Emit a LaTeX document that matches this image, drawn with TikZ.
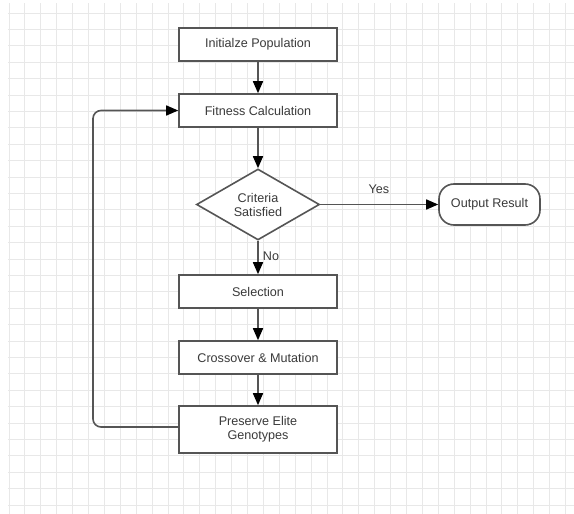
\documentclass[tikz,border=0pt]{standalone}
\usepackage{fontspec}
\setmainfont{Liberation Sans}
\usetikzlibrary{shapes.geometric,arrows.meta}
\definecolor{gridc}{HTML}{E8E8E8}
\definecolor{linec}{HTML}{555555}
\definecolor{txtc}{HTML}{3A3A3A}
\begin{document}
\begin{tikzpicture}[x=1pt,y=-1pt,
  every node/.style={font=\fontsize{12.6}{14}\selectfont, text=txtc},
  procbox/.style={draw=linec, line width=1.6pt, fill=white, minimum width=158pt, minimum height=33pt, inner sep=0pt, align=center},
  decbox/.style={draw=linec, line width=1.6pt, fill=white, diamond, minimum width=123pt, minimum height=71pt, aspect=1.73, inner sep=0pt, align=center},
  termbox/.style={draw=linec, line width=1.6pt, fill=white, rounded corners=15pt, minimum width=101pt, minimum height=41pt, inner sep=0pt},
  conn/.style={draw=linec, line width=1.6pt, -{Triangle[length=12pt,width=10pt,black]}},
  lbl/.style={inner sep=1pt}
]
\useasboundingbox (0,0) rectangle (574,514);
\fill[white] (0,0) rectangle (574,514);
% grid
\foreach \i in {0,...,35} {\draw[gridc, line width=0.9pt] ({9+15.9*\i},3) -- ({9+15.9*\i},514);}
\foreach \j in {0,...,30} {\draw[gridc, line width=0.9pt] (8,{13+16.4*\j}) -- (574,{13+16.4*\j});}

\node[procbox] (init) at (258,44.5) {Initialze Population};
\node[procbox] (fit) at (258,110.5) {Fitness Calculation};
\node[decbox] (crit) at (258,204.5) {Criteria\\Satisfied};
\node[termbox] (out) at (489.5,204.5) {Output Result};
\node[procbox] (sel) at (258,291.5) {Selection};
\node[procbox] (cross) at (258,357.5) {Crossover \& Mutation};
\node[procbox, minimum height=47pt] (pres) at (258,429.5) {Preserve Elite\\Genotypes};

\coordinate (lb) at (93,427);
\coordinate (lt) at (93,110.5);

\draw[conn] (init) -- (fit);
\draw[conn] (fit) -- (crit);
\draw[conn] (crit.east) -- (out.west);
\draw[conn] (crit.south) -- (sel.north);
\draw[conn] (sel) -- (cross);
\draw[conn] (cross) -- (pres);
\draw[conn, rounded corners=8pt] (pres.west |- lb) -- (lb) -- (lt) -- (fit.west);

\node[lbl] (yes) at (379,189) {Yes};
\node[lbl] (no) at (271,256) {No};
\end{tikzpicture}
\end{document}
